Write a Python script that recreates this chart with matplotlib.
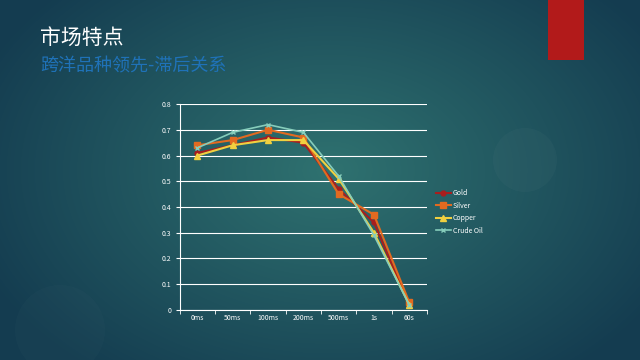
import numpy as np
import matplotlib
matplotlib.use("Agg")
import matplotlib.pyplot as plt
from matplotlib.patches import Rectangle, Circle

plt.rcParams['font.family'] = ['Noto Sans CJK SC', 'DejaVu Sans']

categories = ["0ms", "50ms", "100ms", "200ms", "500ms", "1s", "60s"]
gold = [0.61, 0.64, 0.67, 0.65, 0.47, 0.34, 0.02]
silver = [0.64, 0.66, 0.70, 0.67, 0.45, 0.37, 0.03]
copper = [0.60, 0.64, 0.66, 0.66, 0.51, 0.30, 0.02]
crude = [0.63, 0.69, 0.72, 0.69, 0.52, 0.29, 0.02]
yticks = [0, 0.1, 0.2, 0.3, 0.4, 0.5, 0.6, 0.7, 0.8]
ytick_labels = ["0", "0.1", "0.2", "0.3", "0.4", "0.5", "0.6", "0.7", "0.8"]

fig = plt.figure(figsize=(6.4, 3.6), dpi=100)

# background gradient
bg = fig.add_axes([0, 0, 1, 1])
bg.set_axis_off()
W, H = 640, 360
yy, xx = np.mgrid[0:H, 0:W]
d = np.sqrt(((xx - 330) / 380.0) ** 2 + ((yy - 170) / 260.0) ** 2)
d = np.clip(d, 0, 1)
c_in = np.array([0x2f, 0x72, 0x70]) / 255.0
c_out = np.array([0x14, 0x3c, 0x50]) / 255.0
img = c_in[None, None, :] * (1 - d[..., None]) + c_out[None, None, :] * d[..., None]
bg.imshow(img, extent=[0, W, H, 0], aspect='auto')
bg.set_xlim(0, W)
bg.set_ylim(H, 0)
bg.add_patch(Circle((525, 160), 32, color='white', alpha=0.025, lw=0))
bg.add_patch(Circle((60, 330), 45, color='white', alpha=0.015, lw=0))
bg.add_patch(Rectangle((548, 0), 36, 60, color='#b21a1a', lw=0))
bg.text(40, 44, "市场特点", color='white', fontsize=15, va='baseline', ha='left')
bg.text(40, 71, "跨洋品种领先-滞后关系", color='#1f72b8', fontsize=13, va='baseline', ha='left')

ax = fig.add_axes([0.281, 0.139, 0.386, 0.572])
ax.patch.set_alpha(0)
x = np.arange(len(categories))
ax.plot(x, gold, color='#a81e1e', marker='o', ms=3.5, lw=1.5, label='Gold')
ax.plot(x, silver, color='#e26a20', marker='s', ms=4, lw=1.5, label='Silver')
ax.plot(x, copper, color='#f0d040', marker='^', ms=4, lw=1.5, label='Copper')
ax.plot(x, crude, color='#86cdbb', marker='x', ms=2.5, lw=1.2, label='Crude Oil')

ax.set_xlim(-0.5, len(categories) - 0.5)
ax.set_ylim(0, 0.8)
ax.set_yticks(yticks)
ax.set_yticklabels(ytick_labels)
ax.set_xticks(x)
ax.set_xticklabels(categories)
ax.set_xticks(np.arange(len(categories) + 1) - 0.5, minor=True)
ax.grid(axis='y', color='white', lw=0.8)
ax.set_axisbelow(True)
for s in ['top', 'right']:
    ax.spines[s].set_visible(False)
for s in ['left', 'bottom']:
    ax.spines[s].set_color('white')
    ax.spines[s].set_linewidth(0.8)
ax.tick_params(axis='both', colors='white', labelsize=5, length=0, pad=3)
ax.tick_params(axis='x', which='minor', length=3, color='white')
ax.tick_params(axis='y', length=3, color='white')

leg = ax.legend(loc='center left', bbox_to_anchor=(1.01, 0.475), frameon=False,
                fontsize=5, labelcolor='white', handlelength=2.2, labelspacing=0.65,
                handletextpad=0.3)

fig.savefig('out.png', dpi=100)
